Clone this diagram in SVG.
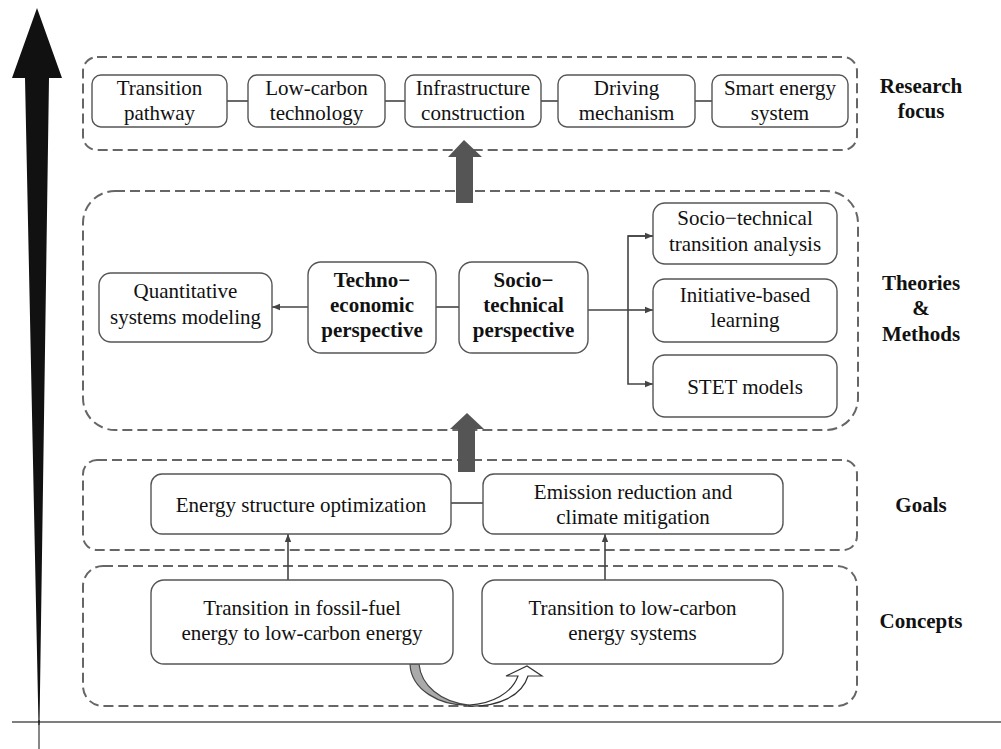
<svg xmlns="http://www.w3.org/2000/svg" width="1001" height="749" viewBox="0 0 1001 749">
<style>
.grp{fill:none;stroke:#666;stroke-width:2;stroke-dasharray:10 5}
.box{fill:#fff;stroke:#555;stroke-width:1.4}
.t{font-family:"Liberation Serif","Times New Roman",serif;font-size:21px;fill:#111;text-anchor:middle}
.b{font-weight:bold}
.ln{stroke:#444;stroke-width:1.6;fill:none}
.big{fill:#555}
</style>
<defs>
<marker id="ah" viewBox="0 0 10 10" refX="10" refY="5" markerWidth="8" markerHeight="8" markerUnits="userSpaceOnUse" orient="auto">
<path d="M0,1 L10,5 L0,9 Z" fill="#444"/>
</marker>
</defs>
<rect width="1001" height="749" fill="#fff"/>

<!-- axes -->
<g id="axes">
<line x1="12" y1="722" x2="1001" y2="722" stroke="#555" stroke-width="1.6"/>
<polygon points="37,8 62,78 49,78 39.5,725 38.5,725 25,78 12,78" fill="#111"/>
<line x1="39" y1="720" x2="39" y2="749" stroke="#111" stroke-width="1"/>
</g>

<!-- group frames -->
<g id="frames">
<rect class="grp" x="83" y="57" width="774" height="93" rx="14"/>
<rect class="grp" x="83" y="191" width="775" height="239" rx="32"/>
<rect class="grp" x="83" y="460" width="774" height="90" rx="14"/>
<rect class="grp" x="83" y="566" width="774" height="140" rx="20"/>
</g>

<!-- connectors -->
<g id="connectors">
<line class="ln" x1="227" y1="101" x2="248" y2="101"/>
<line class="ln" x1="385" y1="101" x2="405" y2="101"/>
<line class="ln" x1="541" y1="101" x2="558" y2="101"/>
<line class="ln" x1="695" y1="101" x2="712" y2="101"/>
<line class="ln" x1="308" y1="307" x2="272" y2="307" marker-end="url(#ah)"/>
<line class="ln" x1="436" y1="307" x2="459" y2="307"/>
<polyline class="ln" points="588,310 628,310"/>
<polyline class="ln" points="653,236 628,236 628,384 653,384" marker-end="url(#ah)"/>
<line class="ln" x1="628" y1="236" x2="653" y2="236" marker-end="url(#ah)"/>
<line class="ln" x1="628" y1="310" x2="653" y2="310" marker-end="url(#ah)"/>
<line class="ln" x1="451" y1="503" x2="483" y2="503"/>
<line class="ln" x1="288" y1="580" x2="288" y2="534" marker-end="url(#ah)"/>
<line class="ln" x1="605" y1="580" x2="605" y2="534" marker-end="url(#ah)"/>
<polygon class="big" points="464,140 482,157 473,157 473,203 456,203 456,157 448,157"/>
<polygon class="big" points="467,413 484,429 475,429 475,472 458,472 458,429 450,429"/>
<path d="M410,664 L419,664 C421,685 440,702 469,705 C440,706 411,690 410,664 Z" fill="#aaa" stroke="#444" stroke-width="1.2"/>
<path d="M469,705 C492,704 512,693 518,676 L506,676 L527,666 L542,676 L528,676 C522,696 498,707 469,706 Z" fill="#fff" stroke="#333" stroke-width="1.2"/>
</g>

<!-- Research focus -->
<g id="n-pathway"><rect class="box" x="92" y="75" width="135" height="52" rx="9"/>
<text class="t" x="159.5" y="95">Transition</text><text class="t" x="159.5" y="120">pathway</text></g>
<g id="n-lowcarbon"><rect class="box" x="248" y="75" width="137" height="52" rx="9"/>
<text class="t" x="316.5" y="95">Low-carbon</text><text class="t" x="316.5" y="120">technology</text></g>
<g id="n-infra"><rect class="box" x="405" y="75" width="136" height="52" rx="9"/>
<text class="t" x="473" y="95">Infrastructure</text><text class="t" x="473" y="120">construction</text></g>
<g id="n-driving"><rect class="box" x="558" y="75" width="137" height="52" rx="9"/>
<text class="t" x="626.5" y="95">Driving</text><text class="t" x="626.5" y="120">mechanism</text></g>
<g id="n-smart"><rect class="box" x="712" y="75" width="136" height="52" rx="9"/>
<text class="t" x="780" y="95">Smart energy</text><text class="t" x="780" y="120">system</text></g>
<g id="l-research"><text class="t b" x="921" y="93">Research</text><text class="t b" x="921" y="118">focus</text></g>

<!-- Theories & Methods -->
<g id="n-quant"><rect class="box" x="99" y="273" width="173" height="69" rx="12"/>
<text class="t" x="185.5" y="298">Quantitative</text><text class="t" x="185.5" y="324">systems modeling</text></g>
<g id="n-techno"><rect class="box" x="308" y="262" width="128" height="91" rx="13"/>
<text class="t b" x="372" y="287">Techno−</text><text class="t b" x="372" y="312">economic</text><text class="t b" x="372" y="337">perspective</text></g>
<g id="n-socio"><rect class="box" x="459" y="262" width="129" height="91" rx="13"/>
<text class="t b" x="523.5" y="287">Socio−</text><text class="t b" x="523.5" y="312">technical</text><text class="t b" x="523.5" y="337">perspective</text></g>
<g id="n-sta"><rect class="box" x="653" y="203" width="184" height="61" rx="12"/>
<text class="t" x="745" y="225">Socio−technical</text><text class="t" x="745" y="251">transition analysis</text></g>
<g id="n-ibl"><rect class="box" x="653" y="279" width="184" height="63" rx="12"/>
<text class="t" x="745" y="302">Initiative-based</text><text class="t" x="745" y="327">learning</text></g>
<g id="n-stet"><rect class="box" x="653" y="355" width="184" height="62" rx="12"/>
<text class="t" x="745" y="394">STET models</text></g>
<g id="l-theories"><text class="t b" x="921" y="290">Theories</text><text class="t b" x="921" y="315">&amp;</text><text class="t b" x="921" y="341">Methods</text></g>

<!-- Goals -->
<g id="n-eso"><rect class="box" x="151" y="474" width="300" height="60" rx="11"/>
<text class="t" x="301" y="512">Energy structure optimization</text></g>
<g id="n-emission"><rect class="box" x="483" y="474" width="300" height="60" rx="11"/>
<text class="t" x="633" y="499">Emission reduction and</text><text class="t" x="633" y="524">climate mitigation</text></g>
<g id="l-goals"><text class="t b" x="921" y="512">Goals</text></g>

<!-- Concepts -->
<g id="n-fossil"><rect class="box" x="151" y="580" width="302" height="84" rx="13"/>
<text class="t" x="302" y="615">Transition in fossil-fuel</text><text class="t" x="302" y="640">energy to low-carbon energy</text></g>
<g id="n-lcs"><rect class="box" x="482" y="580" width="301" height="84" rx="13"/>
<text class="t" x="632.5" y="615">Transition to low-carbon</text><text class="t" x="632.5" y="640">energy systems</text></g>
<g id="l-concepts"><text class="t b" x="921" y="628">Concepts</text></g>
</svg>
